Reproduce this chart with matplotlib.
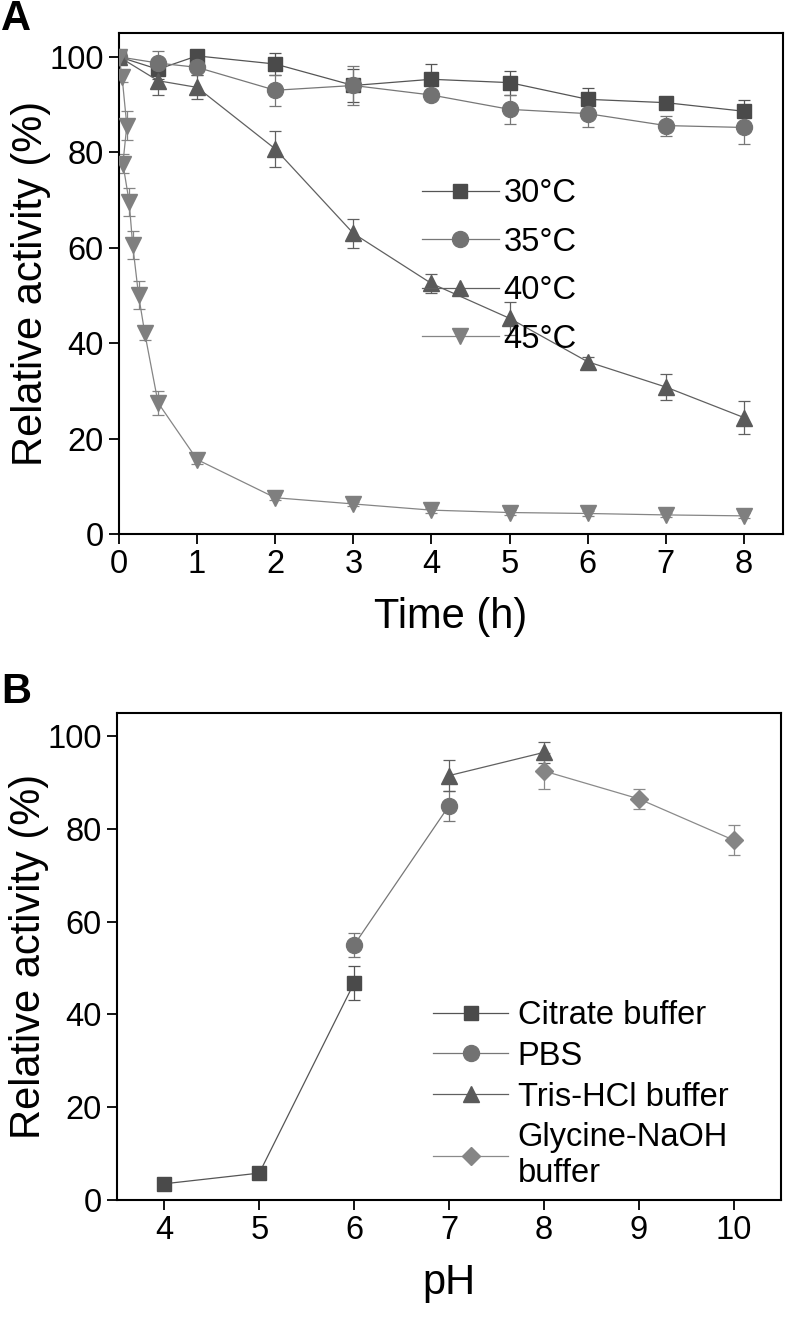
import matplotlib
matplotlib.use("Agg")
import matplotlib.pyplot as plt

plt.rcParams['font.family'] = ['Liberation Sans', 'DejaVu Sans']

# ---------------- Panel A data ----------------
t_main = [0, 0.5, 1, 2, 3, 4, 5, 6, 7, 8]
a30 = [100, 97.4, 100.2, 98.5, 94.0, 95.3, 94.6, 91.1, 90.4, 88.6]
e30 = [0.5, 2.0, 1.0, 2.3, 3.5, 3.1, 2.5, 2.3, 0.5, 2.4]
a35 = [100, 98.7, 97.8, 93.0, 94.0, 92.0, 89.0, 88.1, 85.6, 85.2]
e35 = [0.5, 2.5, 1.5, 3.3, 4.0, 1.0, 3.0, 2.8, 2.1, 3.5]
a40 = [100, 95.0, 93.6, 80.7, 63.0, 52.5, 45.2, 36.1, 30.8, 24.4]
e40 = [0.5, 3.0, 2.5, 3.7, 3.0, 2.0, 3.5, 1.0, 2.7, 3.5]
t45 = [0, 0.04, 0.1, 0.05, 0.13, 0.175, 0.25, 0.33, 0.5, 1, 2, 3, 4, 5, 6, 7, 8]
a45 = [100, 95.7, 85.6, 77.6, 69.6, 60.6, 50.1, 42.1, 27.5, 15.6, 7.6, 6.3, 5.0, 4.5, 4.3, 4.0, 3.8]
e45 = [0.5, 1.0, 3.0, 2.0, 3.0, 3.0, 3.0, 1.5, 2.5, 1.0, 0.5, 0.5, 0.5, 0.5, 0.5, 0.5, 0.5]
labels_a = ['30°C', '35°C', '40°C', '45°C']

# ---------------- Panel B data ----------------
ph_cit = [4, 5, 6]
b_cit = [3.5, 5.8, 46.8]
e_cit = [0.5, 0.5, 3.7]
ph_pbs = [6, 7]
b_pbs = [55.0, 85.0]
e_pbs = [2.6, 3.2]
ph_tris = [7, 8]
b_tris = [91.5, 96.5]
e_tris = [3.4, 2.2]
ph_gly = [8, 9, 10]
b_gly = [92.5, 86.5, 77.6]
e_gly = [3.8, 2.2, 3.2]
labels_b = ['Citrate buffer', 'PBS', 'Tris-HCl buffer', 'Glycine-NaOH\nbuffer']

W, H = 786, 1319
fig = plt.figure(figsize=(W / 100, H / 100), dpi=100)

def axrect(l, t, r, b):
    return [l / W, 1 - b / H, (r - l) / W, (b - t) / H]

axA = fig.add_axes(axrect(119, 33, 783, 534))
axB = fig.add_axes(axrect(117, 713, 781, 1200))

def series(ax, x, y, e, marker, color, lcolor, ms, label):
    ax.errorbar(x, y, yerr=e, fmt='none', ecolor=lcolor, elinewidth=0.9,
                capsize=4.5, capthick=0.9, zorder=2)
    ax.plot(x, y, marker=marker, color=lcolor, mfc=color, mec=color,
            ms=ms, lw=0.9, label=label, zorder=3)

series(axA, t_main, a30, e30, 's', '#4a4a4a', '#555555', 10.5, labels_a[0])
series(axA, t_main, a35, e35, 'o', '#727272', '#777777', 11.5, labels_a[1])
series(axA, t_main, a40, e40, '^', '#5a5a5a', '#606060', 12, labels_a[2])
series(axA, t45, a45, e45, 'v', '#7f7f7f', '#858585', 12, labels_a[3])

series(axB, ph_cit, b_cit, e_cit, 's', '#4a4a4a', '#555555', 10.5, labels_b[0])
series(axB, ph_pbs, b_pbs, e_pbs, 'o', '#727272', '#777777', 11.5, labels_b[1])
series(axB, ph_tris, b_tris, e_tris, '^', '#5a5a5a', '#606060', 12, labels_b[2])
series(axB, ph_gly, b_gly, e_gly, 'D', '#858585', '#8a8a8a', 9.5, labels_b[3])

fs = 23.5
lfs = 30
for ax in (axA, axB):
    ax.set_ylim(0, 105)
    ax.set_yticks([0, 20, 40, 60, 80, 100])
    ax.tick_params(direction='out', length=7, width=1.3, labelsize=fs, pad=4,
                   top=False, right=False)
    for s in ax.spines.values():
        s.set_linewidth(1.5)
    ax.set_ylabel('Relative activity (%)', fontsize=lfs, labelpad=-1)

axA.set_xlim(0, 8.5)
axA.set_xticks(range(0, 9))
axA.set_xlabel('Time (h)', fontsize=lfs, labelpad=12)
axB.set_xlim(3.5, 10.5)
axB.set_xticks(range(4, 11))
axB.set_xlabel('pH', fontsize=lfs, labelpad=12)

axA.legend(loc='upper left', bbox_to_anchor=((422 - 119) / 664, (534 - 178) / 501),
           frameon=False, fontsize=fs, handlelength=2.35, handletextpad=0.15,
           labelspacing=0.54, borderpad=0, borderaxespad=0)
axB.legend(loc='upper left', bbox_to_anchor=((433 - 117) / 664, (1200 - 1000) / 487),
           frameon=False, fontsize=fs, handlelength=2.3, handletextpad=0.3,
           labelspacing=0.3, borderpad=0, borderaxespad=0)

fig.text(1 / W, 1 - 19 / H, 'A', fontsize=30, fontweight='bold', va='center', ha='left')
fig.text(1 / W, 1 - 692 / H, 'B', fontsize=30, fontweight='bold', va='center', ha='left')

fig.savefig('out.png', dpi=100)
